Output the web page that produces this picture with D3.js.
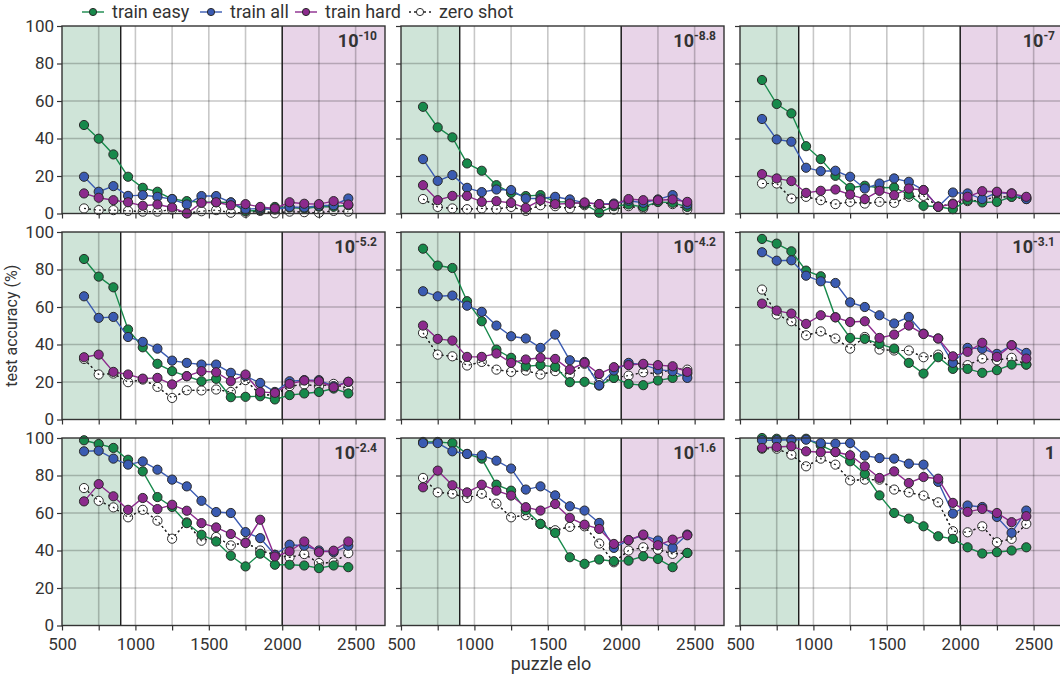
<!DOCTYPE html>
<html>
<head>
<meta charset="utf-8">
<script src="https://cdn.jsdelivr.net/npm/d3@7"></script>
<style>
  body { margin: 0; background: #fff; }
  svg { font-family: Roboto, "Noto Sans", sans-serif; }
</style>
</head>
<body>
<svg id="mainsvg" width="1060" height="679"></svg>
<script>
// puzzle elo bins (x values of every point)
const elo = [650, 750, 850, 950, 1050, 1150, 1250, 1350, 1450, 1550, 1650, 1750, 1850, 1950, 2050, 2150, 2250, 2350, 2450];

// panel labels: 10^exp (last one is plain 1)
const panelBase = ["10", "10", "10", "10", "10", "10", "10", "10", "1"];
const panelExp = ["-10", "-8.8", "-7", "-5.2", "-4.2", "-3.1", "-2.4", "-1.6", ""];

// test accuracy (%) per panel, one row per panel
const trainEasy = [
  [47.2, 39.9, 31.5, 19.6, 13.7, 11.6, 7.7, 6.6, 6.0, 6.0, 5.9, 1.2, 1.8, 3.5, 3.2, 2.7, 3.6, 3.6, 4.4],
  [56.9, 45.9, 40.6, 26.7, 22.8, 15.1, 11.0, 9.3, 9.8, 6.2, 6.2, 5.0, 0.4, 3.9, 4.8, 3.5, 6.2, 5.7, 3.5],
  [71.2, 58.4, 53.4, 35.9, 29.0, 20.1, 13.7, 14.8, 13.7, 13.9, 10.1, 4.1, 3.6, 2.3, 7.1, 5.9, 6.2, 8.9, 8.4],
  [85.6, 76.2, 70.5, 48.0, 38.5, 29.7, 25.8, 23.1, 20.4, 21.7, 11.9, 12.1, 12.4, 10.7, 13.0, 13.9, 14.7, 16.5, 13.9],
  [91.1, 82.1, 80.8, 63.1, 52.4, 37.3, 32.9, 28.4, 29.0, 28.1, 19.9, 20.1, 18.1, 22.2, 19.0, 18.3, 20.8, 22.2, 24.5],
  [96.3, 93.8, 89.7, 79.4, 76.4, 54.5, 43.5, 43.0, 40.3, 37.8, 30.2, 24.5, 33.2, 27.0, 27.0, 24.9, 26.3, 29.3, 29.3],
  [98.8, 96.8, 94.7, 88.4, 82.2, 68.5, 63.2, 54.6, 48.4, 44.8, 37.2, 31.5, 38.3, 32.4, 32.4, 32.0, 30.6, 32.0, 31.1],
  [97.9, 97.9, 97.3, 91.5, 89.0, 75.1, 71.9, 61.5, 54.2, 49.4, 36.4, 32.9, 35.2, 34.3, 34.6, 36.9, 35.5, 31.1, 38.7],
  [100, 99.6, 99.1, 99.6, 96.1, 92.5, 87.6, 80.8, 69.4, 60.0, 57.0, 52.9, 47.6, 46.2, 41.7, 38.4, 39.1, 40.0, 41.7]
];
const trainAll = [
  [19.6, 11.6, 14.6, 9.4, 9.8, 8.9, 7.7, 4.8, 9.3, 9.3, 5.9, 2.3, 2.7, 2.1, 3.5, 3.2, 4.1, 4.4, 8.0],
  [29.0, 17.4, 20.5, 13.7, 11.4, 12.8, 12.5, 8.0, 8.0, 8.9, 7.5, 5.7, 5.0, 5.3, 6.8, 5.7, 7.5, 9.8, 4.8],
  [50.4, 39.5, 38.3, 24.4, 22.6, 22.8, 19.6, 13.3, 16.0, 18.7, 16.9, 12.5, 3.6, 11.2, 10.7, 7.7, 11.2, 10.7, 7.7],
  [65.7, 54.2, 54.7, 44.0, 41.4, 37.8, 31.4, 30.2, 29.3, 29.3, 24.9, 23.1, 19.5, 14.7, 20.4, 21.0, 21.0, 17.8, 20.1],
  [68.4, 65.7, 66.1, 60.7, 57.4, 50.1, 44.4, 43.2, 38.2, 45.3, 31.6, 30.7, 18.3, 26.1, 30.2, 29.3, 26.6, 25.8, 22.2],
  [89.2, 84.7, 84.9, 76.7, 73.7, 72.8, 62.5, 60.0, 55.6, 51.2, 54.7, 45.8, 43.2, 30.2, 38.2, 37.7, 35.0, 39.6, 35.5],
  [92.9, 93.2, 89.0, 85.8, 87.5, 83.1, 77.8, 74.2, 66.5, 60.5, 60.0, 49.8, 46.6, 37.7, 43.1, 42.5, 40.0, 39.1, 42.5],
  [97.3, 97.3, 92.9, 91.5, 90.8, 87.9, 83.7, 72.5, 74.2, 69.4, 63.6, 61.3, 54.7, 41.4, 45.5, 48.1, 45.3, 41.4, 48.5],
  [98.8, 98.8, 99.1, 99.1, 97.3, 97.0, 97.3, 90.6, 89.3, 89.0, 86.3, 85.8, 76.6, 59.7, 64.0, 63.2, 57.9, 49.4, 61.3]
];
const trainHard = [
  [10.7, 8.4, 7.1, 6.0, 4.1, 4.8, 3.2, 0.0, 5.7, 6.0, 4.4, 5.0, 3.5, 2.7, 6.0, 5.2, 5.0, 6.6, 4.8],
  [15.1, 7.1, 9.4, 9.4, 6.2, 6.6, 5.7, 3.0, 7.1, 5.0, 5.3, 5.9, 5.0, 4.8, 7.7, 7.1, 7.1, 7.5, 6.2],
  [21.0, 18.7, 17.3, 11.0, 12.1, 12.8, 10.1, 7.7, 12.1, 9.8, 13.3, 12.5, 3.6, 5.0, 8.9, 11.9, 11.6, 10.7, 8.9],
  [33.2, 34.6, 25.4, 24.0, 21.8, 22.2, 18.7, 23.1, 25.8, 25.2, 20.4, 24.0, 14.7, 14.2, 19.0, 20.8, 20.4, 17.2, 20.1],
  [50.1, 43.0, 42.1, 33.4, 33.4, 35.2, 30.2, 32.0, 32.9, 32.3, 26.6, 30.2, 24.3, 27.9, 29.0, 29.7, 29.0, 28.4, 25.4],
  [61.8, 58.1, 56.5, 51.0, 55.6, 54.5, 52.0, 52.4, 43.5, 45.3, 50.1, 45.6, 43.2, 33.7, 36.1, 40.9, 33.4, 39.6, 32.5],
  [66.2, 75.4, 68.9, 61.7, 68.0, 62.1, 64.4, 61.2, 54.6, 52.3, 48.8, 44.0, 56.4, 36.8, 39.5, 44.8, 39.1, 39.9, 44.8],
  [73.7, 82.6, 74.8, 71.0, 75.1, 71.9, 69.3, 63.1, 61.3, 64.8, 57.4, 53.8, 51.5, 43.5, 45.5, 48.5, 42.8, 45.8, 48.1],
  [94.7, 95.2, 95.6, 92.9, 92.4, 92.5, 90.8, 84.9, 78.7, 82.2, 76.0, 79.2, 78.3, 65.4, 60.6, 62.2, 60.0, 55.1, 58.3]
];
const zeroShot = [
  [2.7, 1.8, 1.8, 1.4, 1.0, 1.0, 2.1, 0.2, 1.2, 1.8, 0.4, 0.4, 1.4, 0.1, 1.0, 0.7, 0.4, 1.4, 1.0],
  [7.7, 3.5, 2.7, 2.3, 2.7, 2.3, 3.5, 1.4, 4.4, 3.9, 2.7, 4.4, 3.9, 2.1, 3.9, 2.7, 6.2, 5.0, 2.1],
  [16.0, 16.0, 8.0, 8.9, 7.1, 5.0, 6.2, 5.3, 6.2, 5.7, 8.9, 9.4, 3.6, 5.3, 6.6, 7.1, 8.9, 8.9, 7.7],
  [32.3, 24.0, 24.5, 19.9, 21.3, 17.4, 11.5, 15.6, 15.5, 16.0, 14.7, 21.0, 13.3, 13.0, 17.8, 18.7, 17.8, 19.0, 16.5],
  [46.2, 34.6, 33.7, 28.8, 30.7, 26.6, 25.4, 26.1, 24.0, 25.8, 24.0, 29.7, 19.5, 22.2, 23.4, 25.2, 24.3, 27.2, 26.6],
  [69.3, 56.0, 52.4, 44.9, 47.0, 43.2, 37.8, 44.0, 37.3, 36.8, 36.8, 33.2, 34.6, 30.5, 29.0, 32.5, 31.6, 32.9, 29.3],
  [73.3, 66.5, 63.0, 57.7, 61.7, 55.9, 46.3, 55.0, 45.2, 47.2, 42.7, 44.3, 40.0, 37.7, 36.3, 38.1, 33.3, 33.6, 38.6],
  [78.7, 71.0, 70.3, 68.0, 70.3, 65.0, 57.7, 58.8, 54.2, 50.8, 52.6, 52.9, 43.7, 33.7, 40.0, 41.7, 40.5, 38.2, 38.7],
  [94.3, 94.3, 91.1, 84.9, 89.0, 85.8, 77.4, 77.8, 77.8, 72.5, 71.0, 69.3, 65.7, 50.3, 49.7, 52.9, 44.4, 46.2, 54.2]
];

// axis ticks
const xTicks = [500, 750, 1000, 1250, 1500, 1750, 2000, 2250, 2500];
const xLabels = [500, 1000, 1500, 2000, 2500];
const yTicks = [0, 20, 40, 60, 80, 100];
// shaded elo ranges
const easyRange = [500, 900];
const hardRange = [2000, 2700];

const seriesList = [
  { name: "zero shot", values: zeroShot, color: "#222", fill: "#fff", dash: "2,3" },
  { name: "train easy", values: trainEasy, color: "#17894b", fill: "#17894b", dash: null },
  { name: "train all", values: trainAll, color: "#3a5bb2", fill: "#3a5bb2", dash: null },
  { name: "train hard", values: trainHard, color: "#8c2a8d", fill: "#8c2a8d", dash: null }
];

const svg = d3.select("#mainsvg");
const pw = 323, ph = 187.5;
const left0 = 62, top0 = 26, colStep = 339, rowStep = 206;

const x = d3.scaleLinear().domain([500, 2700]).range([0, pw]);
const y = d3.scaleLinear().domain([0, 100]).range([ph, 0]);

const line = d3.line()
  .x((d, i) => x(elo[i]))
  .y(d => y(d));

for (let p = 0; p < 9; p++) {
  const col = p % 3, row = Math.floor(p / 3);
  const g = svg.append("g")
    .attr("transform", `translate(${left0 + col * colStep},${top0 + row * rowStep})`);

  g.append("rect").attr("width", pw).attr("height", ph).attr("fill", "#fff");
  g.append("rect")
    .attr("x", x(easyRange[0])).attr("width", x(easyRange[1]) - x(easyRange[0]))
    .attr("height", ph).attr("fill", "#cfe4d8");
  g.append("rect")
    .attr("x", x(hardRange[0])).attr("width", x(hardRange[1]) - x(hardRange[0]))
    .attr("height", ph).attr("fill", "#e8d4e8");

  // grid
  g.selectAll(".vgrid").data(xTicks.slice(1)).enter().append("line")
    .attr("x1", d => x(d)).attr("x2", d => x(d))
    .attr("y1", 0).attr("y2", ph)
    .style("stroke", "rgba(0,0,0,0.22)").style("stroke-width", 1.6);
  g.selectAll(".hgrid").data(yTicks.slice(1, -1)).enter().append("line")
    .attr("x1", 0).attr("x2", pw)
    .attr("y1", d => y(d)).attr("y2", d => y(d))
    .style("stroke", "rgba(0,0,0,0.22)").style("stroke-width", 1.6);

  // region boundaries
  [easyRange[1], hardRange[0]].forEach(v => {
    g.append("line")
      .attr("x1", x(v)).attr("x2", x(v)).attr("y1", 0).attr("y2", ph)
      .style("stroke", "#1a1a1a").style("stroke-width", 1.4);
  });

  // series
  seriesList.forEach(s => {
    const vals = s.values[p];
    g.append("path")
      .datum(vals)
      .attr("d", line)
      .attr("fill", "none")
      .style("stroke", s.color)
      .style("stroke-width", s.dash ? 1.2 : 1.4)
      .style("stroke-dasharray", s.dash);
    g.selectAll(null).data(vals).enter().append("circle")
      .attr("cx", (d, i) => x(elo[i]))
      .attr("cy", d => y(d))
      .attr("r", 4.6)
      .attr("fill", s.fill)
      .style("stroke", "#2a2a2a")
      .style("stroke-width", 1);
    if (s.dash) {
      // dotted line drawn again over its own open markers
      g.append("path")
        .datum(vals)
        .attr("d", line)
        .attr("fill", "none")
        .style("stroke", s.color)
        .style("stroke-width", 1.2)
        .style("stroke-dasharray", s.dash);
    }
  });

  // frame
  g.append("rect").attr("width", pw).attr("height", ph)
    .attr("fill", "none").style("stroke", "#333").style("stroke-width", 1.4);

  // axes
  const ax = g.append("g").attr("transform", `translate(0,${ph})`)
    .call(d3.axisBottom(x).tickValues(xTicks).tickSize(5)
      .tickFormat(d => (row === 2 && xLabels.includes(d)) ? d : ""));
  const ay = g.append("g")
    .call(d3.axisLeft(y).tickValues(yTicks).tickSize(5)
      .tickFormat(d => col === 0 ? d : ""));
  [ax, ay].forEach(a => {
    a.select(".domain").remove();
    a.selectAll(".tick line").style("stroke", "#333").style("stroke-width", 1.2);
    a.selectAll("text").style("font-size", "17px").style("fill", "#333")
      .style("font-family", "Roboto, sans-serif");
  });
  ax.selectAll("text").attr("dy", "0.95em");
  ay.selectAll("text").attr("x", -8);

  // panel title
  const t = g.append("text")
    .attr("x", pw - 8).attr("y", 21)
    .attr("text-anchor", "end")
    .style("font-weight", "bold").style("font-size", "18px").style("fill", "#333");
  t.append("tspan").text(panelBase[p]);
  if (panelExp[p]) {
    t.append("tspan").attr("dy", -7).style("font-size", "12px").text(panelExp[p]);
  }
}

// legend
const legendOrder = ["train easy", "train all", "train hard", "zero shot"];
const legendX = [93, 211, 306, 420];
legendOrder.forEach((name, i) => {
  const s = seriesList.find(d => d.name === name);
  const lg = svg.append("g").attr("transform", `translate(${legendX[i]},12)`);
  lg.append("line").attr("x1", -11).attr("x2", 11)
    .style("stroke", s.color).style("stroke-width", 1.4)
    .style("stroke-dasharray", s.dash);
  lg.append("circle").attr("r", 3.6).attr("fill", s.fill)
    .style("stroke", "#2a2a2a").style("stroke-width", 1);
  lg.append("text").attr("x", 19).attr("dy", "0.35em")
    .style("font-size", "18px").style("fill", "#333").text(name);
});

// axis titles
svg.append("text")
  .attr("transform", `translate(17,${top0 + (2 * rowStep + ph) / 2}) rotate(-90)`)
  .attr("text-anchor", "middle")
  .style("font-size", "16px").style("fill", "#333")
  .text("test accuracy (%)");
svg.append("text")
  .attr("x", 551).attr("y", 670)
  .attr("text-anchor", "middle")
  .style("font-size", "18px").style("fill", "#333")
  .text("puzzle elo");
</script>
</body>
</html>
